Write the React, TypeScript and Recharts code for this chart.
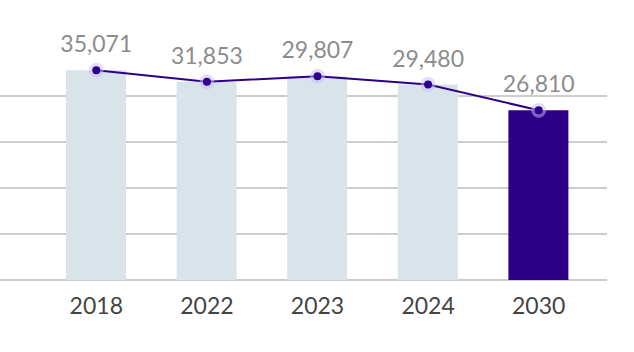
import { ComposedChart, Bar, Line, XAxis, YAxis, CartesianGrid, Cell, LabelList } from 'recharts'

// years on the x axis
const years = ['2018', '2022', '2023', '2024', '2030']
// bar / point heights as drawn (the picture's bars don't follow the printed numbers)
const heights = [45600, 43100, 44300, 42500, 36900]
// printed values above each point
const labels = ['35,071', '31,853', '29,807', '29,480', '26,810']
const yTicks = [0, 10000, 20000, 30000, 40000]

const data = years.map((year, i) => ({
  year,
  value: heights[i],
  label: labels[i],
}))

const FONT = 'Lato, "Open Sans", sans-serif'
const PURPLE = '#2e0088'
const PALE = '#d9e3ea'

const HaloDot = (props: any) => {
  const { cx, cy, index } = props
  if (cx == null || cy == null) return null
  return (
    <g key={`dot-${index}`}>
      <circle cx={cx} cy={cy} r={7.5} fill="#c9bcff" fillOpacity={0.5} />
      <circle cx={cx} cy={cy} r={4} fill={PURPLE} />
    </g>
  )
}

export default function App() {
  return (
    <div style={{ position: 'fixed', left: 0, top: 0, background: '#fff' }}>
      <ComposedChart
        width={634}
        height={352}
        data={data}
        margin={{ top: 50, right: 27, bottom: 0, left: 0 }}
        style={{ fontFamily: FONT }}
      >
        <CartesianGrid
          vertical={false}
          horizontalValues={yTicks}
          stroke="#bdbdbd"
          strokeWidth={1.5}
        />
        <XAxis
          dataKey="year"
          axisLine={false}
          tickLine={false}
          height={72}
          padding={{ left: 41, right: 13 }}
          tickMargin={12}
          tick={{ fill: '#444', fontSize: 23, fontFamily: FONT }}
        />
        <YAxis
          width={0}
          domain={[0, 50000]}
          ticks={yTicks}
          interval={0}
          tick={{ fill: 'none', fontSize: 10 }}
          axisLine={false}
          tickLine={false}
        />
        <Bar dataKey="value" barSize={60} isAnimationActive={false}>
          {data.map((d, i) => (
            <Cell key={d.year} fill={i === data.length - 1 ? PURPLE : PALE} />
          ))}
        </Bar>
        <Line
          dataKey="value"
          stroke={PURPLE}
          strokeWidth={2}
          dot={<HaloDot />}
          activeDot={false}
          isAnimationActive={false}
        >
          <LabelList
            dataKey="label"
            position="top"
            offset={18}
            fill="#8c8c8c"
            fontSize={23}
            fontFamily={FONT}
          />
        </Line>
      </ComposedChart>
    </div>
  )
}
